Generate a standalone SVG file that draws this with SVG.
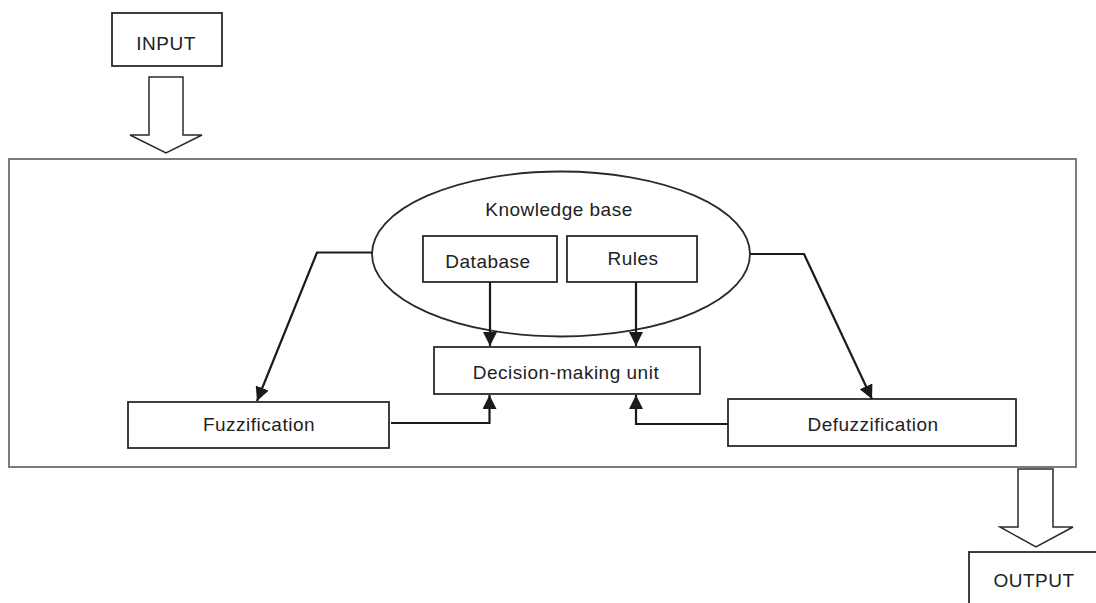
<svg xmlns="http://www.w3.org/2000/svg" width="1096" height="603" viewBox="0 0 1096 603">
<style>
.box{fill:#fff;stroke:#2a2a2a;stroke-width:1.8}
.frame{fill:none;stroke:#6e6e6e;stroke-width:1.8}
.big{fill:#fff;stroke:#2a2a2a;stroke-width:1.5}
.t{font-family:"Liberation Sans",Arial,sans-serif;font-size:19px;fill:#222;text-anchor:middle;letter-spacing:0.5px}
.c{fill:none;stroke:#1a1a1a;stroke-width:2.2}
</style>
<defs>
<marker id="ah" viewBox="0 0 14 14" refX="14" refY="7" markerWidth="14" markerHeight="14" markerUnits="userSpaceOnUse" orient="auto">
<path d="M0,0 L14,7 L0,14 Z" fill="#1a1a1a"/>
</marker>
</defs>
<rect id="frame" class="frame" x="9" y="159" width="1067" height="308"/>
<g id="input">
<rect class="box" x="112" y="13" width="110" height="53"/>
<text class="t" x="166" y="50">INPUT</text>
</g>
<g id="input-arrow">
<path class="big" d="M149,77 L183,77 L183,135 L202,135 L166,153 L130,135 L149,135 Z"/>
</g>
<g id="knowledge">
<ellipse class="box" cx="561" cy="254" rx="189" ry="82.5" stroke-width="1.5"/>
<text class="t" x="559" y="216">Knowledge base</text>
</g>
<g id="database">
<rect class="box" x="423" y="236" width="134" height="46"/>
<text class="t" x="488" y="268">Database</text>
</g>
<g id="rules">
<rect class="box" x="567" y="236" width="130" height="46"/>
<text class="t" x="633" y="265">Rules</text>
</g>
<g id="decision">
<rect class="box" x="434" y="347" width="266" height="47"/>
<text class="t" x="566" y="379">Decision-making unit</text>
</g>
<g id="fuzzification">
<rect class="box" x="128" y="402" width="261" height="46"/>
<text class="t" x="259" y="431">Fuzzification</text>
</g>
<g id="defuzzification">
<rect class="box" x="728" y="399" width="288" height="47"/>
<text class="t" x="873" y="431">Defuzzification</text>
</g>
<g id="connectors">
<path class="c" d="M490,282 L490,346" marker-end="url(#ah)"/>
<path class="c" d="M636,282 L636,346" marker-end="url(#ah)"/>
<path class="c" d="M372,252.5 L317,252.5 L257,401" marker-end="url(#ah)"/>
<path class="c" d="M750,254 L804,254 L872,399" marker-end="url(#ah)"/>
<path class="c" d="M391,423 L489.5,423 L489.5,395" marker-end="url(#ah)"/>
<path class="c" d="M728,424 L636,424 L636,395" marker-end="url(#ah)"/>
</g>
<g id="output-arrow">
<path class="big" d="M1018,469 L1053,469 L1053,527 L1073,527 L1036,547 L1000,527 L1018,527 Z"/>
</g>
<g id="output">
<rect class="box" x="969" y="552" width="140" height="60"/>
<text class="t" x="1034" y="587">OUTPUT</text>
</g>
</svg>
